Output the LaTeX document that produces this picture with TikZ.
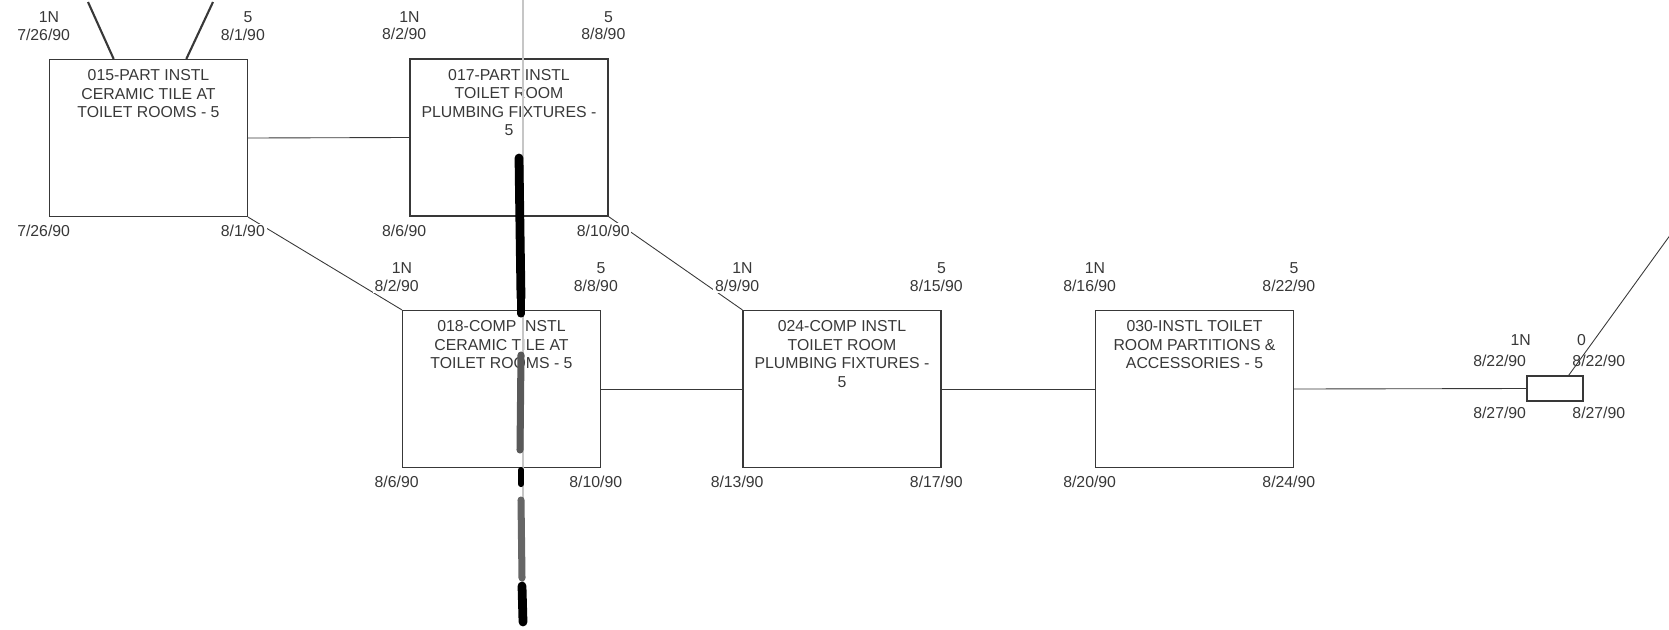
\documentclass[tikz,border=0pt]{standalone}
\usepackage{fontspec}
\setmainfont{Liberation Sans}
\usetikzlibrary{positioning,calc}

\definecolor{ink}{gray}{0.22}
\tikzstyle{taskbox} = [draw=ink, line width=0.7pt, minimum width=3.96cm, minimum height=3.14cm, inner sep=0pt]
\tikzstyle{milebox} = [draw=ink, line width=0.7pt, minimum width=1.12cm, minimum height=0.5cm, inner sep=0pt]
\tikzstyle{tasktext} = [text=ink, font=\fontsize{9}{10.5}\selectfont, align=center, inner sep=0pt]
\tikzstyle{datum} = [text=ink, font=\fontsize{9}{10.5}\selectfont, inner sep=1pt, fill=white, text height=6.4pt, text depth=0pt, xshift=-3pt]
\tikzstyle{durn} = [datum, xshift=6pt]
\tikzstyle{link} = [draw=ink, line width=0.5pt]
\tikzstyle{marker} = [line width=5pt, line cap=round]

\begin{document}
\begin{tikzpicture}[x=0.02cm, y=-0.02cm]
\useasboundingbox (0,0) rectangle (1669,629);
%boxes
\node[taskbox] (b015) at (148.5,138) {};
\node[taskbox] (b017) at (509,137.5) {};
\node[taskbox] (b018) at (501.5,389) {};
\node[taskbox] (b024) at (842,389) {};
\node[taskbox] (b030) at (1194.5,389) {};
\node[milebox] (ms) at (1555,388.5) {};
%texts
\node[tasktext, below=0.21cm of b015.north] (t015) {015-PART INSTL\\CERAMIC TILE AT\\TOILET ROOMS - 5};
\node[tasktext, below=0.21cm of b017.north] (t017) {017-PART INSTL\\TOILET ROOM\\PLUMBING FIXTURES -\\5};
\node[tasktext, below=0.21cm of b018.north] (t018) {018-COMP INSTL\\CERAMIC TILE AT\\TOILET ROOMS - 5};
\node[tasktext, below=0.21cm of b024.north] (t024) {024-COMP INSTL\\TOILET ROOM\\PLUMBING FIXTURES -\\5};
\node[tasktext, below=0.21cm of b030.north] (t030) {030-INSTL TOILET\\ROOM PARTITIONS \&\\ACCESSORIES - 5};
%begin links
\coordinate (in1) at (88,2);
\coordinate (in2) at (213,2);
\draw[link, line width=1.2pt] (in1) -- ($(b015.north west)!0.325!(b015.north east)$);
\draw[link, line width=1.2pt] (in2) -- ($(b015.north west)!0.69!(b015.north east)$);
\draw[link] (b015.east) -- (b017.west);
\draw[link] (b015.south east) -- (b018.north west);
\draw[link] (b017.south east) -- (b024.north west);
\draw[link] (b018.east) -- (b024.west);
\draw[link] (b024.east) -- (b030.west);
\draw[link] (b030.east) -- (ms.west);
\coordinate (msout) at ($(ms.north east)+(-15,0)$);
\coordinate (offpage) at (1676,227);
\draw[link] (msout) -- (offpage);
%end links
%begin dates-015
\node[datum, above=0.33cm of b015.north west] (d015nw) {7/26/90};
\node[durn, above=0.04cm of d015nw] (n015nw) {1N};
\node[datum, above=0.33cm of b015.north east] (d015ne) {8/1/90};
\node[durn, above=0.04cm of d015ne] (n015ne) {5};
\node[datum, below=0.13cm of b015.south west] (d015sw) {7/26/90};
\node[datum, below=0.13cm of b015.south east] (d015se) {8/1/90};
%end dates-015
%begin dates-017
\node[datum, above=0.33cm of b017.north west] (d017nw) {8/2/90};
\node[durn, above=0.04cm of d017nw] (n017nw) {1N};
\node[datum, above=0.33cm of b017.north east] (d017ne) {8/8/90};
\node[durn, above=0.04cm of d017ne] (n017ne) {5};
\node[datum, below=0.13cm of b017.south west] (d017sw) {8/6/90};
\node[datum, below=0.13cm of b017.south east] (d017se) {8/10/90};
%end dates-017
%begin dates-018
\node[datum, above=0.33cm of b018.north west] (d018nw) {8/2/90};
\node[durn, above=0.04cm of d018nw] (n018nw) {1N};
\node[datum, above=0.33cm of b018.north east] (d018ne) {8/8/90};
\node[durn, above=0.04cm of d018ne] (n018ne) {5};
\node[datum, below=0.13cm of b018.south west] (d018sw) {8/6/90};
\node[datum, below=0.13cm of b018.south east] (d018se) {8/10/90};
%end dates-018
%begin dates-024
\node[datum, above=0.33cm of b024.north west] (d024nw) {8/9/90};
\node[durn, above=0.04cm of d024nw] (n024nw) {1N};
\node[datum, above=0.33cm of b024.north east] (d024ne) {8/15/90};
\node[durn, above=0.04cm of d024ne] (n024ne) {5};
\node[datum, below=0.13cm of b024.south west] (d024sw) {8/13/90};
\node[datum, below=0.13cm of b024.south east] (d024se) {8/17/90};
%end dates-024
%begin dates-030
\node[datum, above=0.33cm of b030.north west] (d030nw) {8/16/90};
\node[durn, above=0.04cm of d030nw] (n030nw) {1N};
\node[datum, above=0.33cm of b030.north east] (d030ne) {8/22/90};
\node[durn, above=0.04cm of d030ne] (n030ne) {5};
\node[datum, below=0.13cm of b030.south west] (d030sw) {8/20/90};
\node[datum, below=0.13cm of b030.south east] (d030se) {8/24/90};
%end dates-030
%begin dates-ms
\node[datum, xshift=0pt, above left=0.13cm and -0.14cm of ms.north west] (dmsnw) {8/22/90};
\node[datum, xshift=0pt, fill=none, above left=0.12cm and -0.2cm of dmsnw.north east] (nmsnw) {1N};
\node[datum, xshift=0pt, fill=none, above right=0.13cm and -0.16cm of ms.north east] (dmsne) {8/22/90};
\node[datum, xshift=0pt, fill=none, above right=0.12cm and 0.2cm of dmsne.north west] (nmsne) {0};
\node[datum, xshift=0pt, below left=0.07cm and -0.14cm of ms.south west] (dmssw) {8/27/90};
\node[datum, xshift=0pt, below right=0.07cm and -0.16cm of ms.south east] (dmsse) {8/27/90};
%end dates-ms
%marker stroke over the sheet
\draw[gray!45, line width=0.6pt] (523,0) -- (523,600);
\draw[marker, black] (519,158) -- (520,230) -- (521,298);
\draw[marker, black, line width=4pt] (521,300) -- (521,314);
\draw[marker, black!65, line width=4pt] (521,355) -- (520,450);
\draw[marker, black, line width=3.5pt] (521,470) -- (521,484);
\draw[marker, black!60, line width=4pt] (521,500) -- (522,578);
\draw[marker, black, line width=5pt] (522,586) -- (523,622);
\end{tikzpicture}
\end{document}
